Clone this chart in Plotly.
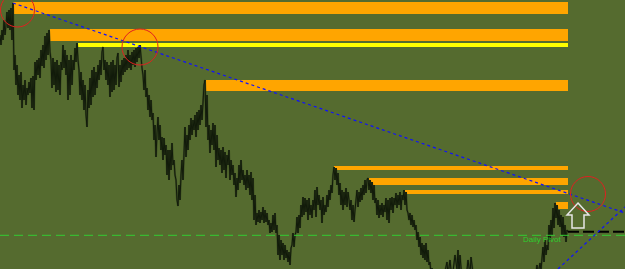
import plotly.graph_objects as go

# ---- price path (bar index, level measured from chart top) ----
price_y_head = [
35,45,30,40,20,35,25,12,28,10,30,8,40,3,70,55,85,65,95,75,100,72,108,85,100,80,105,88,95,82,
93,78,108,76,110,62,80,60,75,58,78,50,66,45,68,36,60,33,55,30,52,60,88,58,85,62,92,60,90,65,
95,62,70,45,68,50,75,55,100,60,95,55,85,60,70,48,62,43,60,70,95,72,100,80,110,85,115,127,90,108,
78,105,70,97,67,95,72,88,65,80,60,75,52,47,70,60,80,62,85,65,97,62,92,60,90,65,85,58,53,87,
65,82,60,75,58,72,55,70,50,68,55,70,52,65,50,67,48,62,47,58,45,60,68,75,90,70,97,88,110,95,
117,100,120,113,140,125,157,133,117,140,125,150,137,160,138,155,145,175,150,180,150,170,143,165,160,175,180,200,206,185,
200,175,160,180,150,127,157,135,150,125,140,118,135,120,130,115,137,112,130,110,125,105,120,95,85,80,127,95,140,125,
153,130,145,123,150,125,167,135,160,148,165,150,173,147,170,152,178,155,165,150,180,160,175,165,185,173,197,178,190,165,
183,160,180,170,185,175,190,170,188,175,195,172,200,178,220,195,225,213,222,210,223,212,220,207,223,210,222,213,225,220,
233,223,232,215,230,213,233,225,255,235,260,240,255,243,260,245,258,250,262,252,265,248,245,233,247,235,232,217,233,215,
228,205,217,197,215,198,212,200,220,198,215,205,218,200,210,190,217,187,205,195,210,200,223,197,215,205,212,195,207,190,
200,185,193,175,167,180,168,185,173,195,183,205,190,210,192,205,188,207,192,200,210,200,220,205,222,210,200,190,207,192,
202,188,200,185,195,180,193,180,178,190,180,193,182,200,185,203,198,215,200,218,205,215,203,217,205,212,198,220,200,223,
198,210,197,213,198,205,193,208,195,205,192,210,195,200,190,205,192,210,213,220,213,225,215,227,220,230,225,240,232,247,
237,255,243,258,245,260,243,262,250,265,262,
]
price_x_tail = [431,432,433,435,438,440,443,445,447,448,450,452,455,457,458,459,460,462,465,468,
                470,471,473,475,480,490,500,510,520,530,535,537,538,540,541,543,544,545,546,547,
                548,549,550,551,552,553,554,555,556,557,558,559,560,561,562,563,564,565,566,567,568]
price_y_tail = [275,268,282,290,285,295,280,272,262,275,260,280,255,270,250,275,255,280,290,260,
                275,257,280,290,295,300,305,300,295,290,280,265,275,263,270,247,262,240,255,245,
                250,225,240,220,235,208,228,203,218,205,225,210,227,215,235,217,237,225,242,230,232]
price_x = list(range(len(price_y_head))) + price_x_tail
price_y = price_y_head + price_y_tail

# ---- support / resistance zones: (start bar, upper level, lower level) ----
zone_start = [13, 50, 204, 334, 368, 405, 556]
zone_top = [2, 29, 80, 166, 178, 190, 202]
zone_bottom = [14, 41, 91, 170, 185, 194, 209]
zone_end = 568
yellow_zone = (78, 43, 47)

# trendlines (bar, level)
trend1 = [(13, 3), (625, 213)]
trend2 = [(558, 269), (625, 207)]
pivot_level = 235.3
black_level = 231.7
circles = [(17.5, 10, 17), (140, 47, 18), (588, 194, 17.5)]

BG = "#556B2F"
fig = go.Figure()

fig.add_trace(go.Scatter(x=price_x, y=price_y, mode="lines",
                         line=dict(color="#3a4a22", width=2.0), hoverinfo="skip"))
fig.add_trace(go.Scatter(x=price_x, y=price_y, mode="lines",
                         line=dict(color="#111a0a", width=1.0), hoverinfo="skip"))

# pivot line and black dashed line
fig.add_trace(go.Scatter(x=[0, 625], y=[pivot_level, pivot_level], mode="lines",
                         line=dict(color="#33cc33", width=1, dash="9px,5px"), hoverinfo="skip"))
fig.add_trace(go.Scatter(x=[568, 625], y=[black_level, black_level], mode="lines",
                         line=dict(color="#000000", width=2, dash="11px,4px"), hoverinfo="skip"))

# trendlines
for tl in (trend1, trend2):
    fig.add_trace(go.Scatter(x=[p[0] for p in tl], y=[p[1] for p in tl], mode="lines",
                             line=dict(color="#1010ff", width=1.2, dash="dot"), hoverinfo="skip"))

shapes = []
for xs, yt, yb in zip(zone_start, zone_top, zone_bottom):
    shapes.append(dict(type="rect", xref="x", yref="y", x0=xs, x1=zone_end, y0=yt, y1=yb,
                       fillcolor="#FFA500", line=dict(width=0), layer="below"))
shapes.append(dict(type="rect", xref="x", yref="y", x0=yellow_zone[0], x1=zone_end,
                   y0=yellow_zone[1], y1=yellow_zone[2], fillcolor="#FFFF00",
                   line=dict(width=0), layer="below"))
for cx, cy, r in circles:
    shapes.append(dict(type="circle", xref="x", yref="y", x0=cx - r, x1=cx + r,
                       y0=cy - r, y1=cy + r, line=dict(color="#e02020", width=1)))
# up arrow outline
shapes.append(dict(type="path", xref="x", yref="y",
                   path="M 578 203 L 589 215 L 584 215 L 584 228 L 572 228 L 572 215 L 567 215 Z",
                   line=dict(color="#e6e6e6", width=1.5), fillcolor="rgba(0,0,0,0)"))

fig.update_layout(
    width=625, height=269, margin=dict(l=0, r=0, t=0, b=0),
    paper_bgcolor=BG, plot_bgcolor=BG, showlegend=False, shapes=shapes,
    xaxis=dict(range=[0, 625], visible=False, fixedrange=True),
    yaxis=dict(range=[269, 0], visible=False, fixedrange=True),
    annotations=[dict(x=542, y=239.5, xref="x", yref="y", text="Daily Pivot",
                      showarrow=False, font=dict(family="Liberation Sans", size=8, color="#2ecc2e"))],
)

fig.write_html("out.html")
